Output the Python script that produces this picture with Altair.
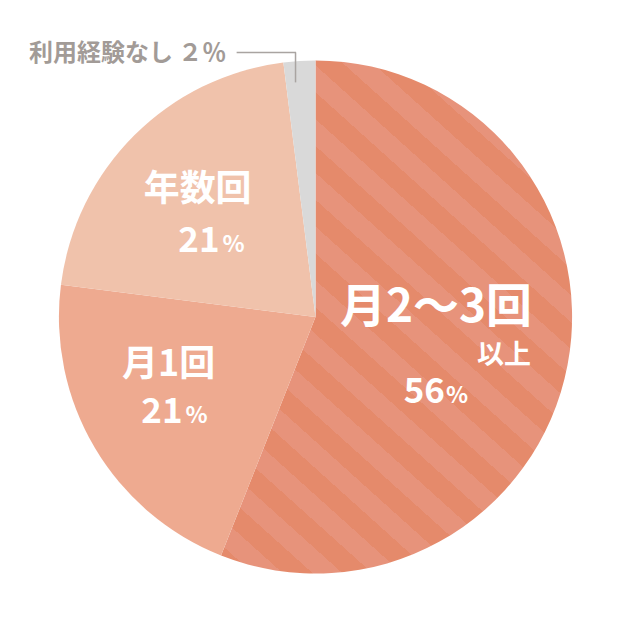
import math
import altair as alt
import pandas as pd

# ---- data ----
categories = ["月2～3回以上", "月1回", "年数回", "利用経験なし"]
values = [56, 21, 21, 2]
title_labels = ["月2～3回", "月1回", "年数回", "利用経験なし ２％"]
sub_labels = ["以上", "", "", ""]
pct_labels = ["56", "21", "21", ""]
unit_labels = ["%", "%", "%", ""]
colors = ["#E58A6B", "#EEAA90", "#F0C2AB", "#D9D9D9"]

df = pd.DataFrame({
    "idx": list(range(len(categories))),
    "cat": categories,
    "value": values,
    "title": title_labels,
    "sub": sub_labels,
    "pct": pct_labels,
    "unit": unit_labels,
})

# ---- style / geometry ----
W, H = 616, 618
CX, CY = W / 2, H / 2
R = 257
FONT = "Noto Sans CJK JP"
STRIPE_DARK = "#E58A6B"
STRIPE_LIGHT = "#E7937B"
LABEL_GRAY = "#A29B97"


def stripe_gradient():
    end = values[0] / sum(values) * 2 * math.pi
    x0 = CX + R * min(0.0, math.sin(end))
    x1 = CX + R
    y0, y1 = CY - R, CY + R
    w, h = x1 - x0, y1 - y0
    slope = 0.9          # stripe direction (down-right)
    period = 40.0        # perpendicular px
    b = h / (slope * w)

    def tpos(px, py):
        xn = (px - x0) / w
        yn = (py - y0) / h
        return (xn + b * (1 - yn)) / (1 + b * b)

    dt = period * math.sqrt(1 / w ** 2 + b ** 2 / h ** 2) / (1 + b * b)
    t0 = tpos(375, 198)
    stops = []
    kmin = math.floor((0 - t0) / dt) - 1
    kmax = math.ceil((1 - t0) / dt) + 1
    for k in range(kmin, kmax + 1):
        a = t0 + k * dt
        for s0, s1, col in ((a, a + dt / 2, STRIPE_LIGHT), (a + dt / 2, a + dt, STRIPE_DARK)):
            lo, hi = max(0.0, s0), min(1.0, s1)
            if hi > lo:
                stops.append({"offset": round(lo, 5), "color": col})
                stops.append({"offset": round(hi, 5), "color": col})
    return {"gradient": "linear", "x1": 0, "y1": 1, "x2": 1, "y2": 1 - b, "stops": stops}


base = alt.Chart(df).encode(
    theta=alt.Theta("value:Q", stack=True),
    order=alt.Order("idx:Q"),
)

pie = base.mark_arc(radius=R).encode(
    fill=alt.condition(
        "datum.idx == 0",
        alt.value(stripe_gradient()),
        alt.Color("cat:N", scale=alt.Scale(domain=categories, range=colors), legend=None),
    )
)


def text_layer(idx, field, radius, size, dx, dy, align="center", baseline="middle", color="white"):
    return base.transform_calculate(
        t=f"datum.idx == {idx} ? datum['{field}'] : ''"
    ).mark_text(
        radius=radius, fontSize=size, dx=dx, dy=dy, align=align, baseline=baseline,
        font=FONT, fontWeight="bold", color=color,
    ).encode(text="t:N")


layers = [
    pie,
    # 月2～3回以上 56%
    text_layer(0, "title", 130, 46, -7, -33),
    text_layer(0, "sub", 130, 27, 61, 15),
    text_layer(0, "pct", 130, 35, 2, 62, align="right", baseline="alphabetic"),
    text_layer(0, "unit", 130, 23, 3, 62, align="left", baseline="alphabetic"),
    # 月1回 21%
    text_layer(1, "title", 150, 36, -18, -28),
    text_layer(1, "pct", 150, 35, -4, 30, align="right", baseline="alphabetic"),
    text_layer(1, "unit", 150, 23, -1, 30, align="left", baseline="alphabetic"),
    # 年数回 21%
    text_layer(2, "title", 150, 36, -12, -21),
    text_layer(2, "pct", 150, 35, 10, 41, align="right", baseline="alphabetic"),
    text_layer(2, "unit", 150, 23, 13, 41, align="left", baseline="alphabetic"),
    # 利用経験なし 2%
    text_layer(3, "title", 262, 24, -73, -2, align="right", color=LABEL_GRAY),
]

leader = alt.Chart(pd.DataFrame({"k": [0]}))
leader_h = leader.mark_rule(color="#A9A4A1", strokeWidth=1.5).encode(
    x=alt.value(229), x2=alt.value(288.5), y=alt.value(44)
)
leader_v = leader.mark_rule(color="#A9A4A1", strokeWidth=1.5).encode(
    x=alt.value(288), y=alt.value(44), y2=alt.value(74)
)

chart = alt.layer(*layers, leader_h, leader_v).properties(
    width=W, height=H, padding=0, background="white"
).configure_view(stroke=None)

chart.save("out.html", embed_options={"renderer": "svg", "actions": False})
